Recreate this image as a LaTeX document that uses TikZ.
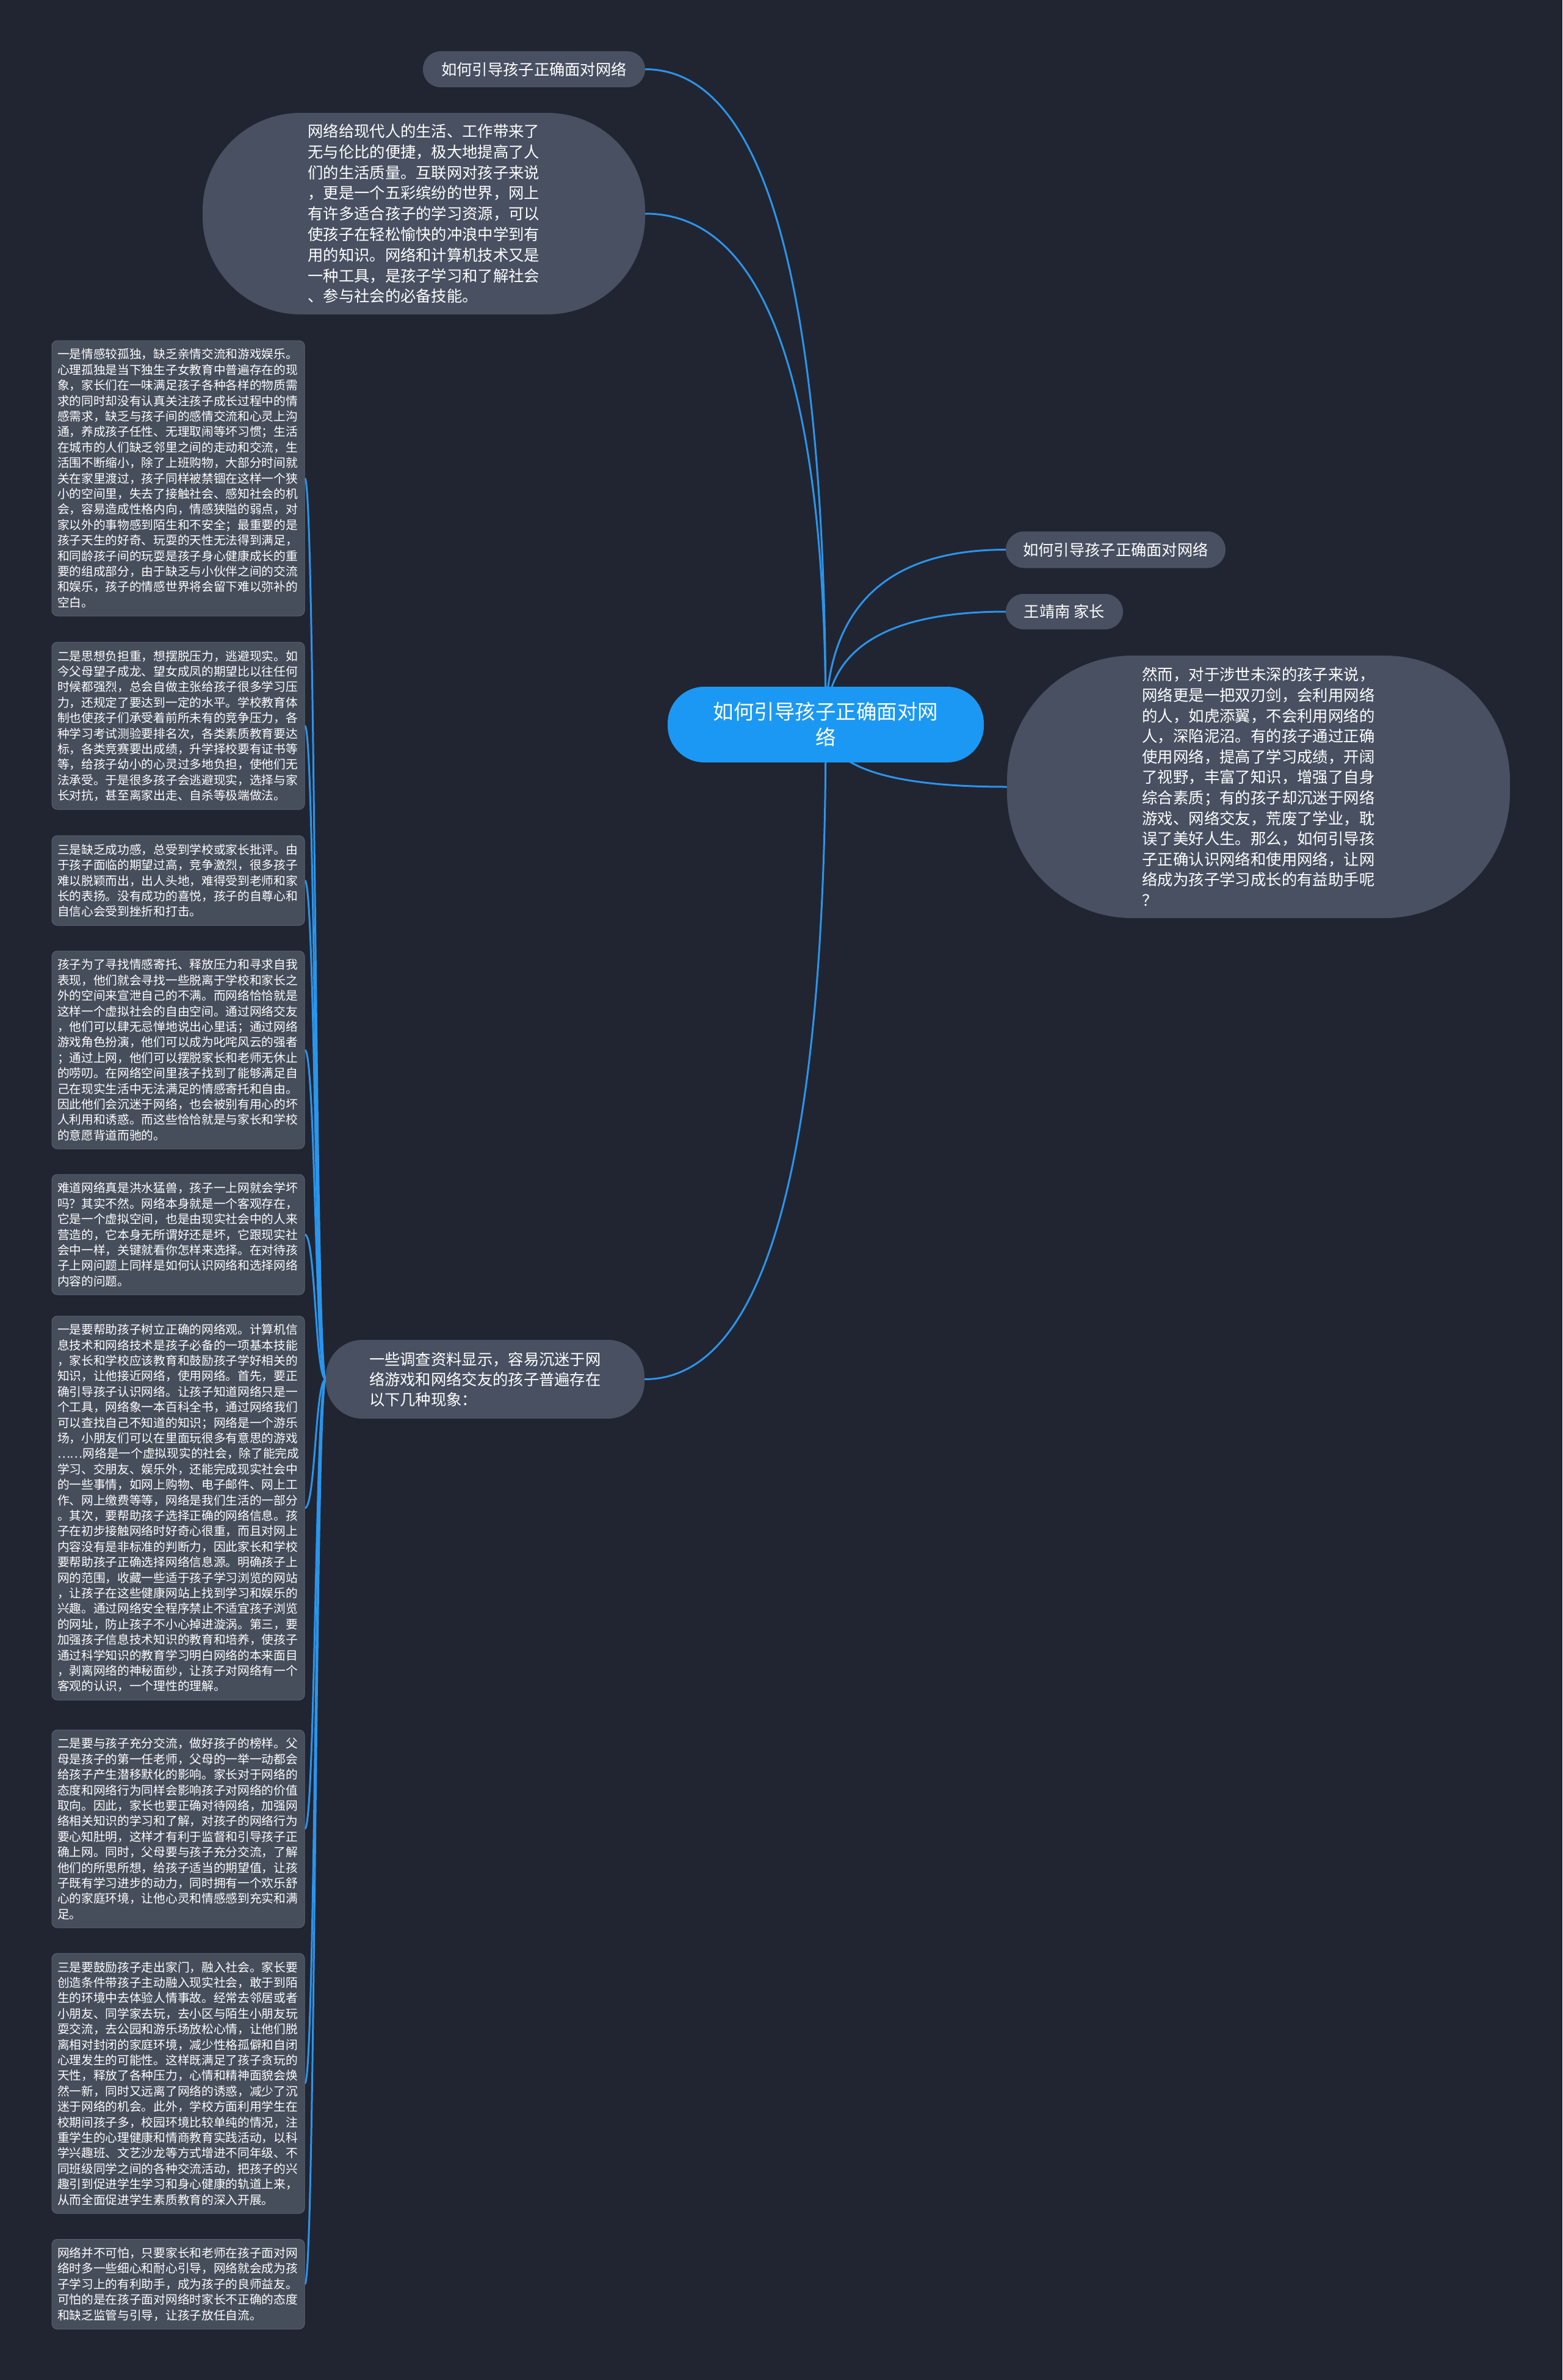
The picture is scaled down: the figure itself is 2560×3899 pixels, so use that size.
\documentclass[tikz,border=0pt]{standalone}
\usepackage{fontspec}
\setmainfont{Noto Sans CJK SC}
\usetikzlibrary{calc}
\definecolor{bgc}{HTML}{212531}
\definecolor{nodec}{HTML}{485061}
\definecolor{boxc}{HTML}{464D5B}
\definecolor{boxline}{HTML}{596070}
\definecolor{linec}{HTML}{2A95EC}
\definecolor{rootc}{HTML}{1B98F3}
\pgfdeclarelayer{background}
\pgfsetlayers{background,main}
\newcommand\qlink[2]{\draw[conn] (#1) .. controls ($(#1)!0.6667!(#1 |- #2)$) and ($(#2)!0.6667!(#1 |- #2)$) .. (#2);}
\newcommand\llink[2]{\draw[conn] (#1) .. controls ($(#1)+(-17.5,0)$) and ($(#2)+(17.5,0)$) .. (#2);}
\tikzset{
  conn/.style={draw=linec, line width=3pt},
  pill/.style={fill=nodec, text=white, inner sep=0pt, font=\fontsize{25.3pt}{34pt}\selectfont},
  bubble/.style={fill=nodec, text=white, inner sep=0pt, align=left, font=\fontsize{25.3pt}{33.8pt}\selectfont},
  rootnode/.style={fill=rootc, text=white, inner sep=0pt, align=center, text width=380pt, font=\fontsize{33.5pt}{42pt}\selectfont},
  tbox/.style={fill=boxc, draw=boxline, line width=1pt, rounded corners=9pt, text=white, inner xsep=9pt, inner ysep=0pt, text width=396pt, minimum width=414pt, align=left, font=\fontsize{19.7pt}{25.4pt}\selectfont}
}
\begin{document}
\begin{tikzpicture}[x=1pt,y=-1pt]
\begin{pgfonlayer}{background}
\fill[bgc] (0,0) rectangle (2560,3899);
\end{pgfonlayer}
\useasboundingbox (0,0) rectangle (2560,3899);

% root
\node[rootnode, minimum width=518pt, minimum height=124pt, rounded corners=60pt] (root) at (1353,1187) {如何引导孩子正确面对网\\络};

% top-left
\node[pill, minimum width=364pt, minimum height=59pt, rounded corners=29pt] (T1) at (875,113.5) {如何引导孩子正确面对网络};
\node[bubble, text width=380pt, minimum width=725pt, minimum height=330pt, rounded corners=160pt] (T2) at (694.5,350) {网络给现代人的生活、工作带来了\\无与伦比的便捷，极大地提高了人\\们的生活质量。互联网对孩子来说\\，更是一个五彩缤纷的世界，网上\\有许多适合孩子的学习资源，可以\\使孩子在轻松愉快的冲浪中学到有\\用的知识。网络和计算机技术又是\\一种工具，是孩子学习和了解社会\\、参与社会的必备技能。};

% right
\node[pill, minimum width=360pt, minimum height=60pt, rounded corners=30pt] (R1) at (1828,900.5) {如何引导孩子正确面对网络};
\node[pill, minimum width=192pt, minimum height=58pt, rounded corners=29pt] (R2) at (1744,1002) {王靖南 家长};
\node[bubble, text width=381pt, minimum width=824pt, minimum height=430pt, rounded corners=205pt, font=\fontsize{25.4pt}{33.6pt}\selectfont] (R3) at (2062,1289) {然而，对于涉世未深的孩子来说，\\网络更是一把双刃剑，会利用网络\\的人，如虎添翼，不会利用网络的\\人，深陷泥沼。有的孩子通过正确\\使用网络，提高了学习成绩，开阔\\了视野，丰富了知识，增强了自身\\综合素质；有的孩子却沉迷于网络\\游戏、网络交友，荒废了学业，耽\\误了美好人生。那么，如何引导孩\\子正确认识网络和使用网络，让网\\络成为孩子学习成长的有益助手呢\\？};

% bottom-left parent
\node[bubble, text width=380pt, minimum width=522pt, minimum height=129pt, rounded corners=60pt, font=\fontsize{25.3pt}{33pt}\selectfont] (L) at (795,2259.5) {一些调查资料显示，容易沉迷于网\\络游戏和网络交友的孩子普遍存在\\以下几种现象：};

% left boxes
\node[tbox, minimum height=451pt] (B1) at (292,783.5) {一是情感较孤独，缺乏亲情交流和游戏娱乐。\\心理孤独是当下独生子女教育中普遍存在的现\\象，家长们在一味满足孩子各种各样的物质需\\求的同时却没有认真关注孩子成长过程中的情\\感需求，缺乏与孩子间的感情交流和心灵上沟\\通，养成孩子任性、无理取闹等坏习惯；生活\\在城市的人们缺乏邻里之间的走动和交流，生\\活围不断缩小，除了上班购物，大部分时间就\\关在家里渡过，孩子同样被禁锢在这样一个狭\\小的空间里，失去了接触社会、感知社会的机\\会，容易造成性格内向，情感狭隘的弱点，对\\家以外的事物感到陌生和不安全；最重要的是\\孩子天生的好奇、玩耍的天性无法得到满足，\\和同龄孩子间的玩耍是孩子身心健康成长的重\\要的组成部分，由于缺乏与小伙伴之间的交流\\和娱乐，孩子的情感世界将会留下难以弥补的\\空白。};

\node[tbox, minimum height=274pt] (B2) at (292,1189) {二是思想负担重，想摆脱压力，逃避现实。如\\今父母望子成龙、望女成凤的期望比以往任何\\时候都强烈，总会自做主张给孩子很多学习压\\力，还规定了要达到一定的水平。学校教育体\\制也使孩子们承受着前所未有的竞争压力，各\\种学习考试测验要排名次，各类素质教育要达\\标，各类竞赛要出成绩，升学择校要有证书等\\等，给孩子幼小的心灵过多地负担，使他们无\\法承受。于是很多孩子会逃避现实，选择与家\\长对抗，甚至离家出走、自杀等极端做法。};

\node[tbox, minimum height=147pt] (B3) at (292,1442.5) {三是缺乏成功感，总受到学校或家长批评。由\\于孩子面临的期望过高，竞争激烈，很多孩子\\难以脱颖而出，出人头地，难得受到老师和家\\长的表扬。没有成功的喜悦，孩子的自尊心和\\自信心会受到挫折和打击。};

\node[tbox, minimum height=324pt] (B4) at (292,1720) {孩子为了寻找情感寄托、释放压力和寻求自我\\表现，他们就会寻找一些脱离于学校和家长之\\外的空间来宣泄自己的不满。而网络恰恰就是\\这样一个虚拟社会的自由空间。通过网络交友\\，他们可以肆无忌惮地说出心里话；通过网络\\游戏角色扮演，他们可以成为叱咤风云的强者\\；通过上网，他们可以摆脱家长和老师无休止\\的唠叨。在网络空间里孩子找到了能够满足自\\己在现实生活中无法满足的情感寄托和自由。\\因此他们会沉迷于网络，也会被别有用心的坏\\人利用和诱惑。而这些恰恰就是与家长和学校\\的意愿背道而驰的。};

\node[tbox, minimum height=197pt] (B5) at (292,2022.5) {难道网络真是洪水猛兽，孩子一上网就会学坏\\吗？其实不然。网络本身就是一个客观存在，\\它是一个虚拟空间，也是由现实社会中的人来\\营造的，它本身无所谓好还是坏，它跟现实社\\会中一样，关键就看你怎样来选择。在对待孩\\子上网问题上同样是如何认识网络和选择网络\\内容的问题。};

\node[tbox, minimum height=629pt] (B6) at (292,2470.5) {一是要帮助孩子树立正确的网络观。计算机信\\息技术和网络技术是孩子必备的一项基本技能\\，家长和学校应该教育和鼓励孩子学好相关的\\知识，让他接近网络，使用网络。首先，要正\\确引导孩子认识网络。让孩子知道网络只是一\\个工具，网络象一本百科全书，通过网络我们\\可以查找自己不知道的知识；网络是一个游乐\\场，小朋友们可以在里面玩很多有意思的游戏\\……网络是一个虚拟现实的社会，除了能完成\\学习、交朋友、娱乐外，还能完成现实社会中\\的一些事情，如网上购物、电子邮件、网上工\\作、网上缴费等等，网络是我们生活的一部分\\。其次，要帮助孩子选择正确的网络信息。孩\\子在初步接触网络时好奇心很重，而且对网上\\内容没有是非标准的判断力，因此家长和学校\\要帮助孩子正确选择网络信息源。明确孩子上\\网的范围，收藏一些适于孩子学习浏览的网站\\，让孩子在这些健康网站上找到学习和娱乐的\\兴趣。通过网络安全程序禁止不适宜孩子浏览\\的网址，防止孩子不小心掉进漩涡。第三，要\\加强孩子信息技术知识的教育和培养，使孩子\\通过科学知识的教育学习明白网络的本来面目\\，剥离网络的神秘面纱，让孩子对网络有一个\\客观的认识，一个理性的理解。};

\node[tbox, minimum height=324pt] (B7) at (292,2996) {二是要与孩子充分交流，做好孩子的榜样。父\\母是孩子的第一任老师，父母的一举一动都会\\给孩子产生潜移默化的影响。家长对于网络的\\态度和网络行为同样会影响孩子对网络的价值\\取向。因此，家长也要正确对待网络，加强网\\络相关知识的学习和了解，对孩子的网络行为\\要心知肚明，这样才有利于监督和引导孩子正\\确上网。同时，父母要与孩子充分交流，了解\\他们的所思所想，给孩子适当的期望值，让孩\\子既有学习进步的动力，同时拥有一个欢乐舒\\心的家庭环境，让他心灵和情感感到充实和满\\足。};

\node[tbox, minimum height=426pt] (B8) at (292,3413) {三是要鼓励孩子走出家门，融入社会。家长要\\创造条件带孩子主动融入现实社会，敢于到陌\\生的环境中去体验人情事故。经常去邻居或者\\小朋友、同学家去玩，去小区与陌生小朋友玩\\耍交流，去公园和游乐场放松心情，让他们脱\\离相对封闭的家庭环境，减少性格孤僻和自闭\\心理发生的可能性。这样既满足了孩子贪玩的\\天性，释放了各种压力，心情和精神面貌会焕\\然一新，同时又远离了网络的诱惑，减少了沉\\迷于网络的机会。此外，学校方面利用学生在\\校期间孩子多，校园环境比较单纯的情况，注\\重学生的心理健康和情商教育实践活动，以科\\学兴趣班、文艺沙龙等方式增进不同年级、不\\同班级同学之间的各种交流活动，把孩子的兴\\趣引到促进学生学习和身心健康的轨道上来，\\从而全面促进学生素质教育的深入开展。};

\node[tbox, minimum height=147pt] (B9) at (292,3742) {网络并不可怕，只要家长和老师在孩子面对网\\络时多一些细心和耐心引导，网络就会成为孩\\子学习上的有利助手，成为孩子的良师益友。\\可怕的是在孩子面对网络时家长不正确的态度\\和缺乏监管与引导，让孩子放任自流。};

\begin{pgfonlayer}{background}
\qlink{root.center}{T1.east}
\qlink{root.center}{T2.east}
\qlink{root.center}{R1.west}
\qlink{root.center}{R2.west}
\qlink{root.center}{R3.west}
\qlink{root.center}{L.east}
\llink{L.west}{B1.east}
\llink{L.west}{B2.east}
\llink{L.west}{B3.east}
\llink{L.west}{B4.east}
\llink{L.west}{B5.east}
\llink{L.west}{B6.east}
\llink{L.west}{B7.east}
\llink{L.west}{B8.east}
\llink{L.west}{B9.east}
\end{pgfonlayer}
\end{tikzpicture}
\end{document}
